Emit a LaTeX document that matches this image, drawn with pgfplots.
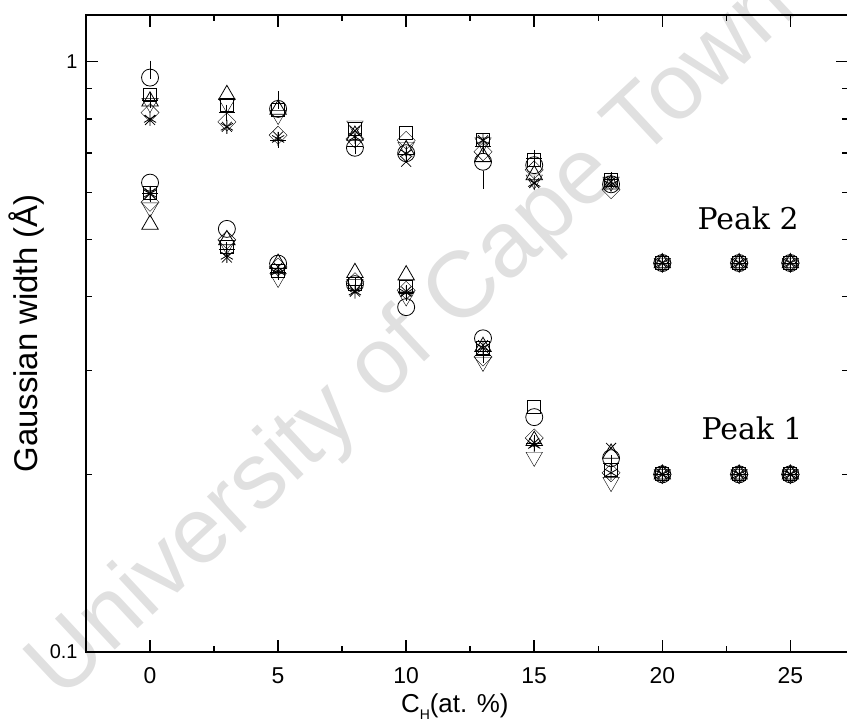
\documentclass[border=0pt]{standalone}
\usepackage{pgfplots}
\pgfplotsset{compat=1.18}
\usepackage{fontspec}
\setmainfont{Liberation Sans}
\newfontfamily\peakfont{DejaVu Serif}
\begin{document}
\begin{tikzpicture}
\path[use as bounding box] (-86bp,-72bp) rectangle (761bp,652bp);
\node[rotate=43, text=black!12, font=\fontsize{94}{94}\selectfont] at (328bp,313bp) {University of Cape Town};
\begin{axis}[
  at={(0,0)}, anchor=south west,
  scale only axis, width=762bp, height=637bp,
  xmin=-2.5, xmax=27.25, ymode=log, ymin=0.1, ymax=1.2,
  xtick={0,5,10,15,20,25},
  minor xtick={2.5,7.5,12.5,17.5,22.5},
  ytick={0.1,1}, yticklabels={0.1,1},
  minor ytick={0.2,0.3,0.4,0.5,0.6,0.7,0.8,0.9},
  tick align=inside,
  major tick length=12bp, minor tick length=6bp,
  every tick/.append style={line width=1.5bp, black},
  axis line style={line width=2bp},
  /pgf/number format/assume math mode=true,
  xticklabel style={font=\fontsize{23}{26}\selectfont, yshift=-12bp},
  yticklabel style={font=\fontsize{20}{24}\selectfont, xshift=-5bp},
  xlabel={C\raisebox{-0.55ex}{\fontsize{14}{14}\selectfont H}(at. \%)},
  xlabel style={font=\fontsize{26}{28}\selectfont, at={(axis description cs:0.484,-0.0942)}, anchor=base},
  ylabel={Gaussian width (Å)},
  ylabel style={font=\fontsize{33}{36}\selectfont, at={(axis description cs:-0.0774,0.5)}, anchor=center},
  clip=false,
  every axis plot/.append style={only marks, black, mark options={line width=0.8bp, fill=none, solid}},
]
% circle
\addplot[mark=o, mark size=8.5bp] coordinates {
(0,0.94) (5,0.832) (8,0.715) (10,0.70) (13,0.677) (15,0.668) (18,0.62) (20,0.456) (23,0.456) (25,0.456)
(0,0.624) (3,0.521) (5,0.455) (8,0.42) (10,0.384) (13,0.340) (15,0.250) (18,0.213) (20,0.2) (23,0.2) (25,0.2)};
% square
\addplot[mark=square, mark size=6.5bp] coordinates {
(0,0.879) (3,0.846) (5,0.83) (8,0.77) (10,0.758) (13,0.736) (15,0.682) (18,0.631) (20,0.456) (23,0.456) (25,0.456)
(0,0.599) (3,0.486) (5,0.442) (8,0.421) (10,0.416) (13,0.328) (15,0.260) (18,0.2035) (20,0.2) (23,0.2) (25,0.2)};
% triangle up
\addplot[mark=triangle, mark size=9.5bp] coordinates {
(0,0.857) (3,0.879) (5,0.83) (8,0.75) (10,0.709) (13,0.69) (15,0.643) (18,0.62) (20,0.456) (23,0.456) (25,0.456)
(0,0.530) (3,0.499) (5,0.455) (8,0.439) (10,0.435) (13,0.329) (15,0.228) (18,0.217) (20,0.2) (23,0.2) (25,0.2)};
% triangle down
\addplot[mark=triangle, mark size=9.5bp, mark options={rotate=180}] coordinates {
(0,0.851) (3,0.85) (5,0.812) (8,0.779) (10,0.717) (13,0.73) (15,0.631) (18,0.626) (20,0.456) (23,0.456) (25,0.456)
(0,0.566) (3,0.489) (5,0.43) (8,0.42) (10,0.40) (13,0.310) (15,0.214) (18,0.194) (20,0.2) (23,0.2) (25,0.2)};
% diamond
\addplot[mark=square, mark size=6.4bp, mark options={rotate=45}] coordinates {
(0,0.82) (3,0.791) (5,0.751) (8,0.74) (10,0.736) (13,0.704) (15,0.656) (18,0.607) (20,0.456) (23,0.456) (25,0.456)
(0,0.578) (3,0.499) (5,0.449) (8,0.424) (10,0.41) (13,0.316) (15,0.2305) (18,0.2012) (20,0.2) (23,0.2) (25,0.2)};
% x
\addplot[mark=x, mark size=7bp] coordinates {
(0,0.797) (3,0.776) (5,0.747) (8,0.764) (10,0.677) (13,0.736) (15,0.623) (18,0.626) (20,0.456) (23,0.456) (25,0.456)
(0,0.598) (3,0.466) (5,0.449) (8,0.408) (10,0.408) (13,0.331) (15,0.226) (18,0.2217) (20,0.2) (23,0.2) (25,0.2)};
% asterisk
\addplot[mark=asterisk, mark size=7bp] coordinates {
(0,0.80) (3,0.776) (5,0.74) (8,0.746) (10,0.70) (13,0.736) (15,0.623) (18,0.619) (20,0.456) (23,0.456) (25,0.456)
(0,0.598) (3,0.469) (5,0.442) (8,0.408) (10,0.406) (13,0.328) (15,0.2243) (18,0.2012) (20,0.2) (23,0.2) (25,0.2)};
% plus
\addplot[mark=+, mark size=8bp] coordinates {
(0,0.86) (3,0.82) (5,0.736) (8,0.72) (10,0.696) (13,0.72) (15,0.687) (18,0.631) (20,0.456) (23,0.456) (25,0.456)
(0,0.598) (3,0.480) (5,0.44) (8,0.418) (10,0.406) (13,0.3186) (15,0.226) (18,0.209) (20,0.2) (23,0.2) (25,0.2)};
% bar
\addplot[mark=|, mark size=9bp] coordinates {(0,0.97) (5,0.86) (13,0.631)};
\node[anchor=base, font=\peakfont\fontsize{30}{30}\selectfont] at (axis cs:23.35,0.519) {Peak 2};
\node[anchor=base, font=\peakfont\fontsize{30}{30}\selectfont] at (axis cs:23.5,0.2288) {Peak 1};
\end{axis}
\end{tikzpicture}
\end{document}
